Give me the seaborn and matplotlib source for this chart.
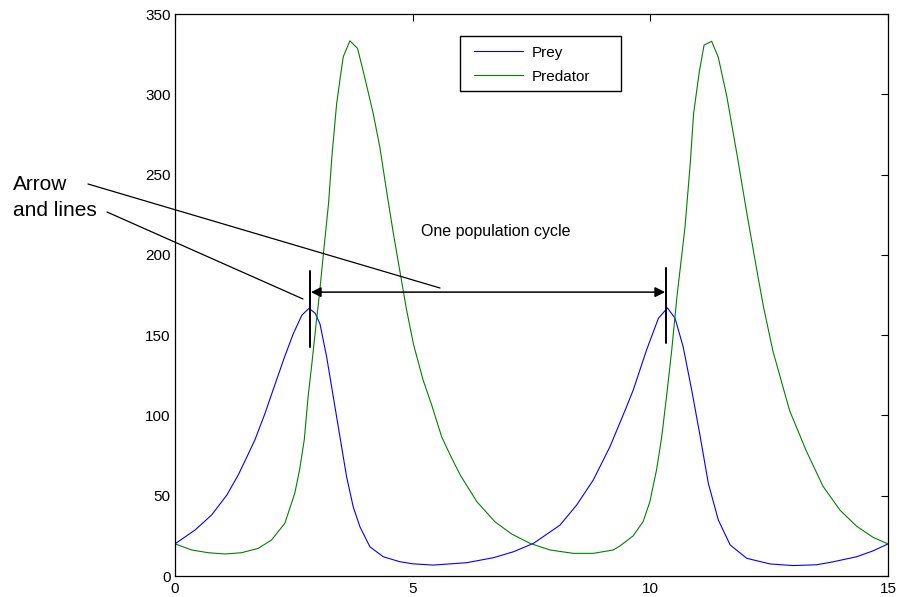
import matplotlib
matplotlib.use("Agg")
import matplotlib.pyplot as plt
import seaborn as sns
import pandas as pd
from matplotlib.lines import Line2D
from matplotlib.patches import Rectangle

# ---- data ----
prey_t = [0.0, 0.42, 0.77, 1.09, 1.33, 1.51, 1.68, 1.89, 2.10, 2.30, 2.49, 2.67, 2.82, 2.95,
          3.05, 3.19, 3.33, 3.47, 3.61, 3.75, 3.89, 4.10, 4.38, 4.73, 5.0, 5.43, 6.14, 6.70,
          7.12, 7.54, 8.10, 8.45, 8.80, 9.15, 9.50, 9.64, 9.92, 10.17, 10.36, 10.52, 10.69,
          10.87, 11.05, 11.22, 11.43, 11.68, 12.03, 12.52, 13.0, 13.5, 13.84, 14.34, 14.69, 15.0]
prey_v = [20, 28.6, 38, 50.4, 62.9, 74, 84.7, 101, 119, 136, 151, 162.5, 166.7, 163.6,
          157, 136.5, 111.6, 86.7, 61.8, 43, 30.7, 18.2, 12, 8.9, 7.6, 6.8, 8.3, 11.4,
          15.1, 20.3, 31.7, 44.2, 59.8, 80.5, 105.4, 115.8, 140.7, 160.5, 167, 160.5, 142.8,
          115.8, 86.7, 57.7, 34.9, 19.3, 11, 7.5, 6.5, 7.0, 8.8, 12, 15.7, 20]

pred_t = [0.0, 0.35, 0.70, 1.05, 1.40, 1.75, 2.03, 2.31, 2.52, 2.62, 2.72, 2.80, 2.88, 2.95,
          3.04, 3.13, 3.23, 3.30, 3.40, 3.47, 3.54, 3.68, 3.84, 3.98, 4.17, 4.31, 4.45, 4.59,
          4.73, 4.87, 5.02, 5.22, 5.40, 5.61, 5.79, 6.0, 6.35, 6.73, 7.08, 7.47, 7.89, 8.38,
          8.80, 9.22, 9.36, 9.64, 9.85, 9.99, 10.13, 10.24, 10.34, 10.45, 10.56, 10.73, 10.84,
          10.91, 11.03, 11.13, 11.29, 11.43, 11.61, 11.82, 12.03, 12.24, 12.38, 12.58, 12.93,
          13.28, 13.63, 13.99, 14.34, 14.69, 15.0]
pred_v = [20, 16.2, 14.5, 13.7, 14.5, 17.2, 22.4, 32.8, 51.5, 66, 85, 111.6, 132.4, 152,
          176, 203, 232, 261, 294, 309, 323.4, 333.3, 328.6, 312, 288, 267, 240, 214,
          190, 166, 144, 122, 106.5, 86.7, 75.3, 62.9, 46.3, 33.8, 26.2, 20.3, 16.2, 14.1,
          14.1, 16.2, 18.7, 25, 34, 46.3, 66, 86.7, 111.6, 140.7, 174, 217.5, 257,
          288, 314, 330.6, 333, 323, 298.5, 263, 226, 190.5, 167.7, 140, 103,
          78, 56, 41, 31, 24, 20]

series_names = ["Prey", "Predator"]
series_colors = ["#0000ff", "#008000"]

x_ticks = [0, 5, 10, 15]
y_ticks = [0, 50, 100, 150, 200, 250, 300, 350]

cycle_start = 2.83   # t of first prey peak
cycle_end = 10.34    # t of second prey peak
arrow_level = 176.8
bar_low, bar_high = 142.5, 190.0
bar2_low, bar2_high = 145.0, 192.0

sns.set_style("white")
plt.rcParams["font.family"] = ["Liberation Sans", "DejaVu Sans"]
plt.rcParams["text.color"] = "black"
plt.rcParams["axes.labelcolor"] = "black"

W, H = 903, 597
fig = plt.figure(figsize=(W / 100, H / 100), dpi=100)
ax = fig.add_axes([175 / W, 21 / H, 713 / W, 562 / H])

prey_df = pd.DataFrame({"t": prey_t, "v": prey_v})
pred_df = pd.DataFrame({"t": pred_t, "v": pred_v})
sns.lineplot(data=prey_df, x="t", y="v", color=series_colors[0], lw=0.8,
             label=series_names[0], ax=ax, sort=False)
sns.lineplot(data=pred_df, x="t", y="v", color=series_colors[1], lw=0.8,
             label=series_names[1], ax=ax, sort=False)

ax.set_xlim(0, 15)
ax.set_ylim(0, 350)
ax.set_xticks(x_ticks)
ax.set_yticks(y_ticks)
ax.set_xlabel("")
ax.set_ylabel("")
ax.tick_params(direction="in", length=5, width=0.8, top=True, right=True,
               labelsize=11, colors="black")
ax.tick_params(axis="y", pad=3)
ax.tick_params(axis="x", pad=4)
for s in ax.spines.values():
    s.set_color("black")
    s.set_linewidth(0.9)
    s.set_visible(True)

# legend (frame drawn separately to match the wide MATLAB box)
leg = ax.legend(loc="upper left", bbox_to_anchor=(460 / W, 1 - 32 / H),
                bbox_transform=fig.transFigure, fontsize=11, frameon=False,
                borderaxespad=0, borderpad=0.9, handlelength=3.2, handletextpad=0.6,
                labelspacing=0.65, labelcolor="black")
for h in leg.get_lines():
    h.set_linewidth(0.8)
fig.add_artist(Rectangle((460 / W, 1 - 91 / H), 161 / W, 55 / H, fill=False,
                         edgecolor="black", lw=1.0, transform=fig.transFigure))

# vertical bars at the peaks
ax.plot([cycle_start, cycle_start], [bar_low, bar_high], color="black", lw=1.4)
ax.plot([cycle_end, cycle_end], [bar2_low, bar2_high], color="black", lw=1.4)
# double arrow
ax.annotate("", xy=(cycle_end, arrow_level), xytext=(cycle_start, arrow_level),
            arrowprops=dict(arrowstyle="<|-|>", color="black", lw=1.1,
                            mutation_scale=15, shrinkA=1, shrinkB=1))
ax.text(6.75, 214.5, "One population cycle", ha="center", va="center",
        fontsize=11.5, color="black")

# annotation lines from text into axes
fig.add_artist(Line2D([88 / W, 440 / W], [1 - 184 / H, 1 - 288 / H],
                      color="black", lw=0.9, transform=fig.transFigure))
fig.add_artist(Line2D([107 / W, 303 / W], [1 - 212 / H, 1 - 299 / H],
                      color="black", lw=0.9, transform=fig.transFigure))
fig.text(13 / W, 1 - 189.5 / H, "Arrow", ha="left", va="baseline", fontsize=15,
         color="black")
fig.text(13 / W, 1 - 216 / H, "and lines", ha="left", va="baseline", fontsize=15,
         color="black")

fig.savefig("out.png", dpi=100)
